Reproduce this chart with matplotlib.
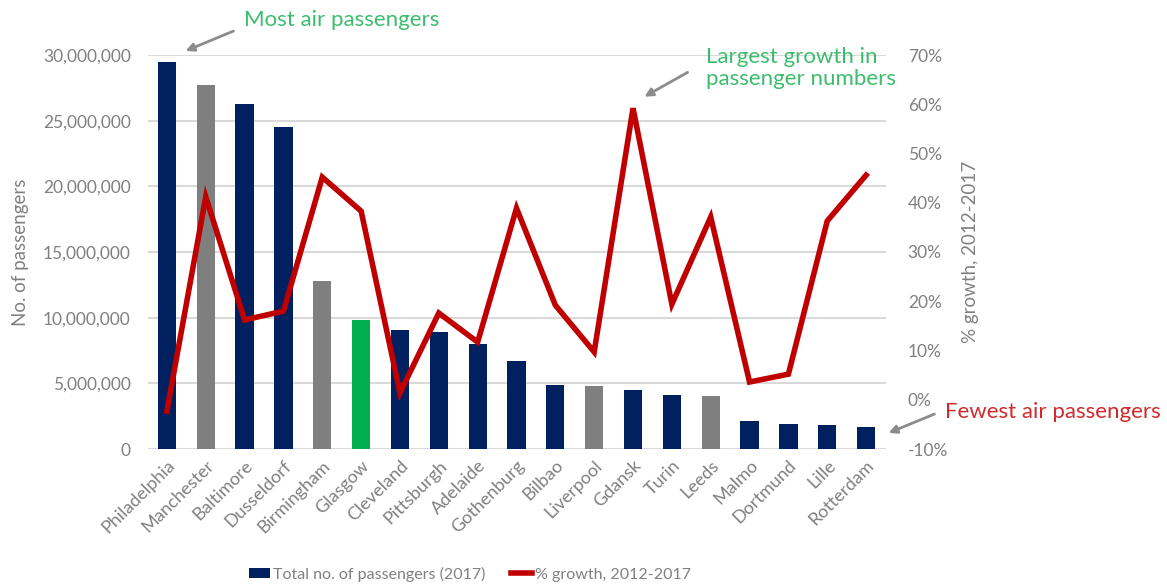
import matplotlib
matplotlib.use("Agg")
import matplotlib.pyplot as plt
from matplotlib.ticker import FuncFormatter, MultipleLocator
from matplotlib.patches import Patch, FancyArrowPatch
from matplotlib.lines import Line2D

plt.rcParams['font.family'] = ['Lato', 'DejaVu Sans']

cities = ["Philadelphia", "Manchester", "Baltimore", "Dusseldorf", "Birmingham", "Glasgow",
          "Cleveland", "Pittsburgh", "Adelaide", "Gothenburg", "Bilbao", "Liverpool",
          "Gdansk", "Turin", "Leeds", "Malmo", "Dortmund", "Lille", "Rotterdam"]
passengers = [29.5e6, 27.7e6, 26.3e6, 24.5e6, 12.8e6, 9.8e6, 9.06e6, 8.9e6, 8.0e6, 6.7e6,
              4.9e6, 4.8e6, 4.5e6, 4.1e6, 4.0e6, 2.1e6, 1.9e6, 1.8e6, 1.7e6]
growth = [-2.3, 41.2, 16.2, 18.0, 45.2, 38.3, 1.4, 17.6, 11.7, 38.9,
          19.2, 9.7, 59.2, 19.4, 37.1, 3.6, 5.2, 36.3, 45.6]
group = ["us", "uk", "us", "us", "uk", "glasgow", "us", "us", "us", "us",
         "us", "uk", "us", "us", "uk", "us", "us", "us", "us"]

palette = {"us": "#002060", "uk": "#7f7f7f", "glasgow": "#00b050"}
bar_colors = [palette[g] for g in group]
tick_gray = "#808080"

fig = plt.figure(figsize=(11.67, 5.87), dpi=100)
ax = fig.add_axes([147.5/1167, 1-449/587, (885.5-147.5)/1167, (449-55)/587])
x = list(range(len(cities)))
ax.bar(x, passengers, width=0.47, color=bar_colors, zorder=2)
ax.set_xlim(-0.5, len(cities) - 0.5)
ax.set_ylim(0, 30e6)
ax.yaxis.set_major_locator(MultipleLocator(5e6))
ax.yaxis.set_major_formatter(FuncFormatter(lambda v, p: f"{int(v):,}"))
ax.grid(axis='y', color='#d9d9d9', linewidth=1.5, zorder=0)
ax.set_axisbelow(True)
for s in ax.spines.values():
    s.set_visible(False)
ax.tick_params(axis='both', length=0, colors=tick_gray, labelsize=12.5)
ax.tick_params(axis='y', pad=12)
ax.set_xticks(x)
ax.set_xticklabels(cities, rotation=45, ha='right', rotation_mode='anchor', fontsize=13, color=tick_gray)
ax.tick_params(axis='x', pad=6)
ax.set_ylabel("No. of passengers", color=tick_gray, fontsize=13.5, labelpad=10)

ax2 = ax.twinx()
ax2.plot(x, growth, color="#c00000", linewidth=4, solid_joinstyle='miter', zorder=3)
ax2.set_ylim(-10, 70)
ax2.yaxis.set_major_locator(MultipleLocator(10))
ax2.yaxis.set_major_formatter(FuncFormatter(lambda v, p: f"{int(round(v))}%"))
for s in ax2.spines.values():
    s.set_visible(False)
ax2.tick_params(axis='y', length=0, colors=tick_gray, labelsize=12.5, pad=16)
ax2.set_ylabel("% growth, 2012-2017", color=tick_gray, fontsize=13.5, labelpad=10)

green = "#3cbd6e"
red_txt = "#d02a2a"
arrow_kw = dict(arrowstyle='-|>', color='#8c8c8c', lw=2, mutation_scale=12)
fig.text(244/1167, 1-20/587, "Most air passengers", color=green, fontsize=16, va='center', ha='left')
fig.add_artist(FancyArrowPatch((236/1167, 1-30/587), (183/1167, 1-52/587),
               transform=fig.transFigure, **arrow_kw))
fig.text(706/1167, 1-68/587, "Largest growth in\npassenger numbers", color=green, fontsize=16,
         va='center', ha='left', linespacing=1.15)
fig.add_artist(FancyArrowPatch((690/1167, 1-71/587), (642/1167, 1-98/587),
               transform=fig.transFigure, **arrow_kw))
fig.text(945/1167, 1-412/587, "Fewest air passengers", color=red_txt, fontsize=16, va='center', ha='left')
fig.add_artist(FancyArrowPatch((937/1167, 1-413/587), (886/1167, 1-434/587),
               transform=fig.transFigure, **arrow_kw))

handles = [Patch(facecolor="#002060", edgecolor="none"),
           Line2D([0], [0], color="#c00000", linewidth=4)]
fig.legend(handles, ["Total no. of passengers (2017)", "% growth, 2012-2017"],
           loc='center', bbox_to_anchor=(470/1167, 1-574/587), ncol=2, frameon=False,
           fontsize=11.5, labelcolor=tick_gray, handlelength=1.3, handleheight=0.6,
           handletextpad=0.2, columnspacing=1.6)

fig.savefig("out.png", dpi=100)
